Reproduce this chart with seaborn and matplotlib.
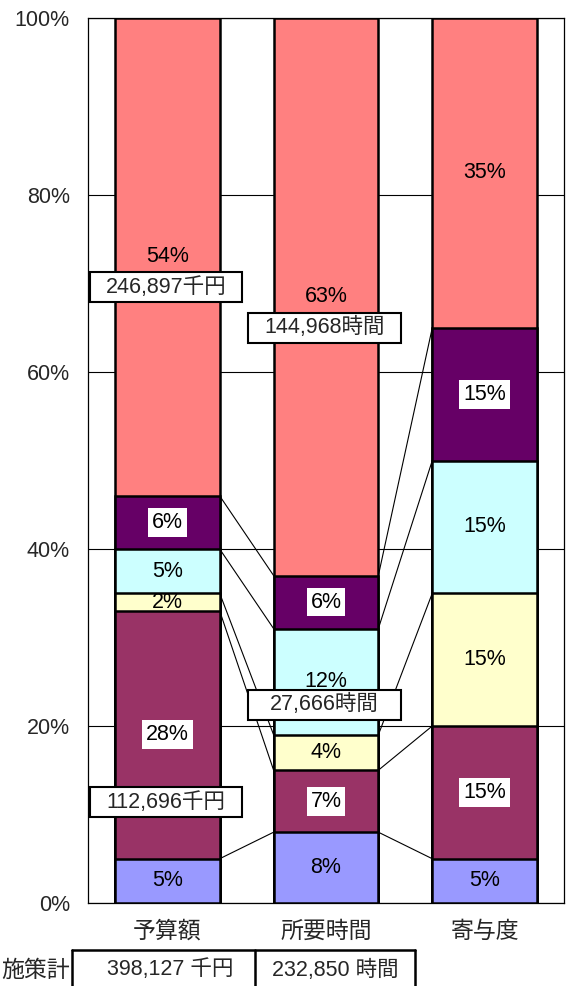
import numpy as np
import pandas as pd
import matplotlib.pyplot as plt
import seaborn as sns
from matplotlib.patches import Rectangle
from matplotlib.lines import Line2D
from matplotlib.ticker import FuncFormatter, FixedLocator

# data (percent of each column, stacked bottom -> top)
categories = ['予算額', '所要時間', '寄与度']
seg1 = [5, 8, 5]
seg2 = [28, 7, 15]
seg3 = [2, 4, 15]
seg4 = [5, 12, 15]
seg5 = [6, 6, 15]
seg6 = [54, 63, 35]
colors = ['#9999FF', '#993366', '#FFFFCC', '#CCFFFF', '#660066', '#FF8080']
boxed = [False, True, False, False, True, False]

notes = ['246,897千円', '112,696千円', '144,968時間', '27,666時間']
note_cat = [0, 0, 1, 1]
note_y = [69.6, 11.4, 65.0, 22.4]

total_title = '施策計'
totals = ['398,127 千円', '232,850 時間']

sns.set_style('white')
narrow = ['Liberation Sans Narrow', 'Liberation Sans', 'Noto Sans CJK JP', 'DejaVu Sans']
cjk = ['Noto Sans CJK JP', 'DejaVu Sans']
plt.rcParams['font.family'] = narrow

segs = np.array([seg1, seg2, seg3, seg4, seg5, seg6], dtype=float)
cum = segs.cumsum(axis=0)
bar_w = 0.66

fig = plt.figure(figsize=(5.71, 9.86), dpi=100)
ax = fig.add_axes([0.1541, 0.0842, 0.8336, 0.8975])

# stacked bars: draw cumulative totals from top series down
for i in range(len(segs) - 1, -1, -1):
    df = pd.DataFrame({'cat': categories, 'val': cum[i]})
    sns.barplot(data=df, x='cat', y='val', color=colors[i], saturation=1,
                width=bar_w, edgecolor='black', linewidth=1.8, ax=ax, zorder=3)

# series lines between bars
for i in range(len(segs) - 1):
    for j in range(len(categories) - 1):
        ax.add_line(Line2D([j + bar_w / 2, j + 1 - bar_w / 2], [cum[i, j], cum[i, j + 1]],
                           color='black', linewidth=0.8, zorder=2))

# segment labels
for i in range(len(segs)):
    for j in range(len(categories)):
        yc = cum[i, j] - segs[i, j] / 2
        kw = {}
        if boxed[i]:
            kw['bbox'] = dict(facecolor='white', edgecolor='none', boxstyle='square,pad=0.18')
        ax.text(j, yc, f'{segs[i, j]:.0f}%', ha='center', va='center', fontsize=15.5,
                family=narrow, color='black', zorder=6, **kw)

# value call-outs
for txt, c, y in zip(notes, note_cat, note_y):
    ax.add_patch(Rectangle((c - 0.49, y - 1.7), 0.96, 3.4, facecolor='white',
                           edgecolor='black', linewidth=1.5, zorder=7))
    ax.text(c - 0.01, y, txt, ha='center', va='center', fontsize=15.5,
            family=narrow, zorder=8)

ax.set_xlim(-0.5, 2.5)
ax.set_ylim(0, 100)
ax.yaxis.set_major_locator(FixedLocator([0, 20, 40, 60, 80, 100]))
ax.yaxis.set_major_formatter(FuncFormatter(lambda v, p: f'{v:.0f}%'))
ax.yaxis.grid(True, color='black', linewidth=0.8, zorder=0)
ax.set_axisbelow(True)
ax.set_xlabel('')
ax.set_ylabel('')
ax.tick_params(axis='y', length=0, pad=13, labelsize=15.5)
ax.tick_params(axis='x', length=0, pad=12, labelsize=16.5)
for lab in ax.get_xticklabels():
    lab.set_family(cjk)
ax.xaxis.set_minor_locator(FixedLocator([0.5, 1.5]))
ax.tick_params(axis='x', which='minor', direction='in', length=5, width=0.8, color='black')
for s in ax.spines.values():
    s.set_visible(True)
    s.set_color('black')
    s.set_linewidth(0.9)

# totals table under the chart
W, H = 571.0, 986.0
for x0, x1, y0, y1 in [(72, 415, 950, 950), (72, 72, 950, 990), (255, 255, 950, 990), (415, 415, 950, 990)]:
    fig.add_artist(Line2D([x0 / W, x1 / W], [1 - y0 / H, 1 - y1 / H], color='black', linewidth=1.8))
fig.text(70 / W, 1 - 970 / H, total_title, ha='right', va='center', fontsize=16.5, family=cjk)
fig.text(170 / W, 1 - 970 / H, totals[0], ha='center', va='center', fontsize=15.5, family=narrow)
fig.text(335 / W, 1 - 970 / H, totals[1], ha='center', va='center', fontsize=15.5, family=narrow)

fig.savefig('out.png', dpi=100)
